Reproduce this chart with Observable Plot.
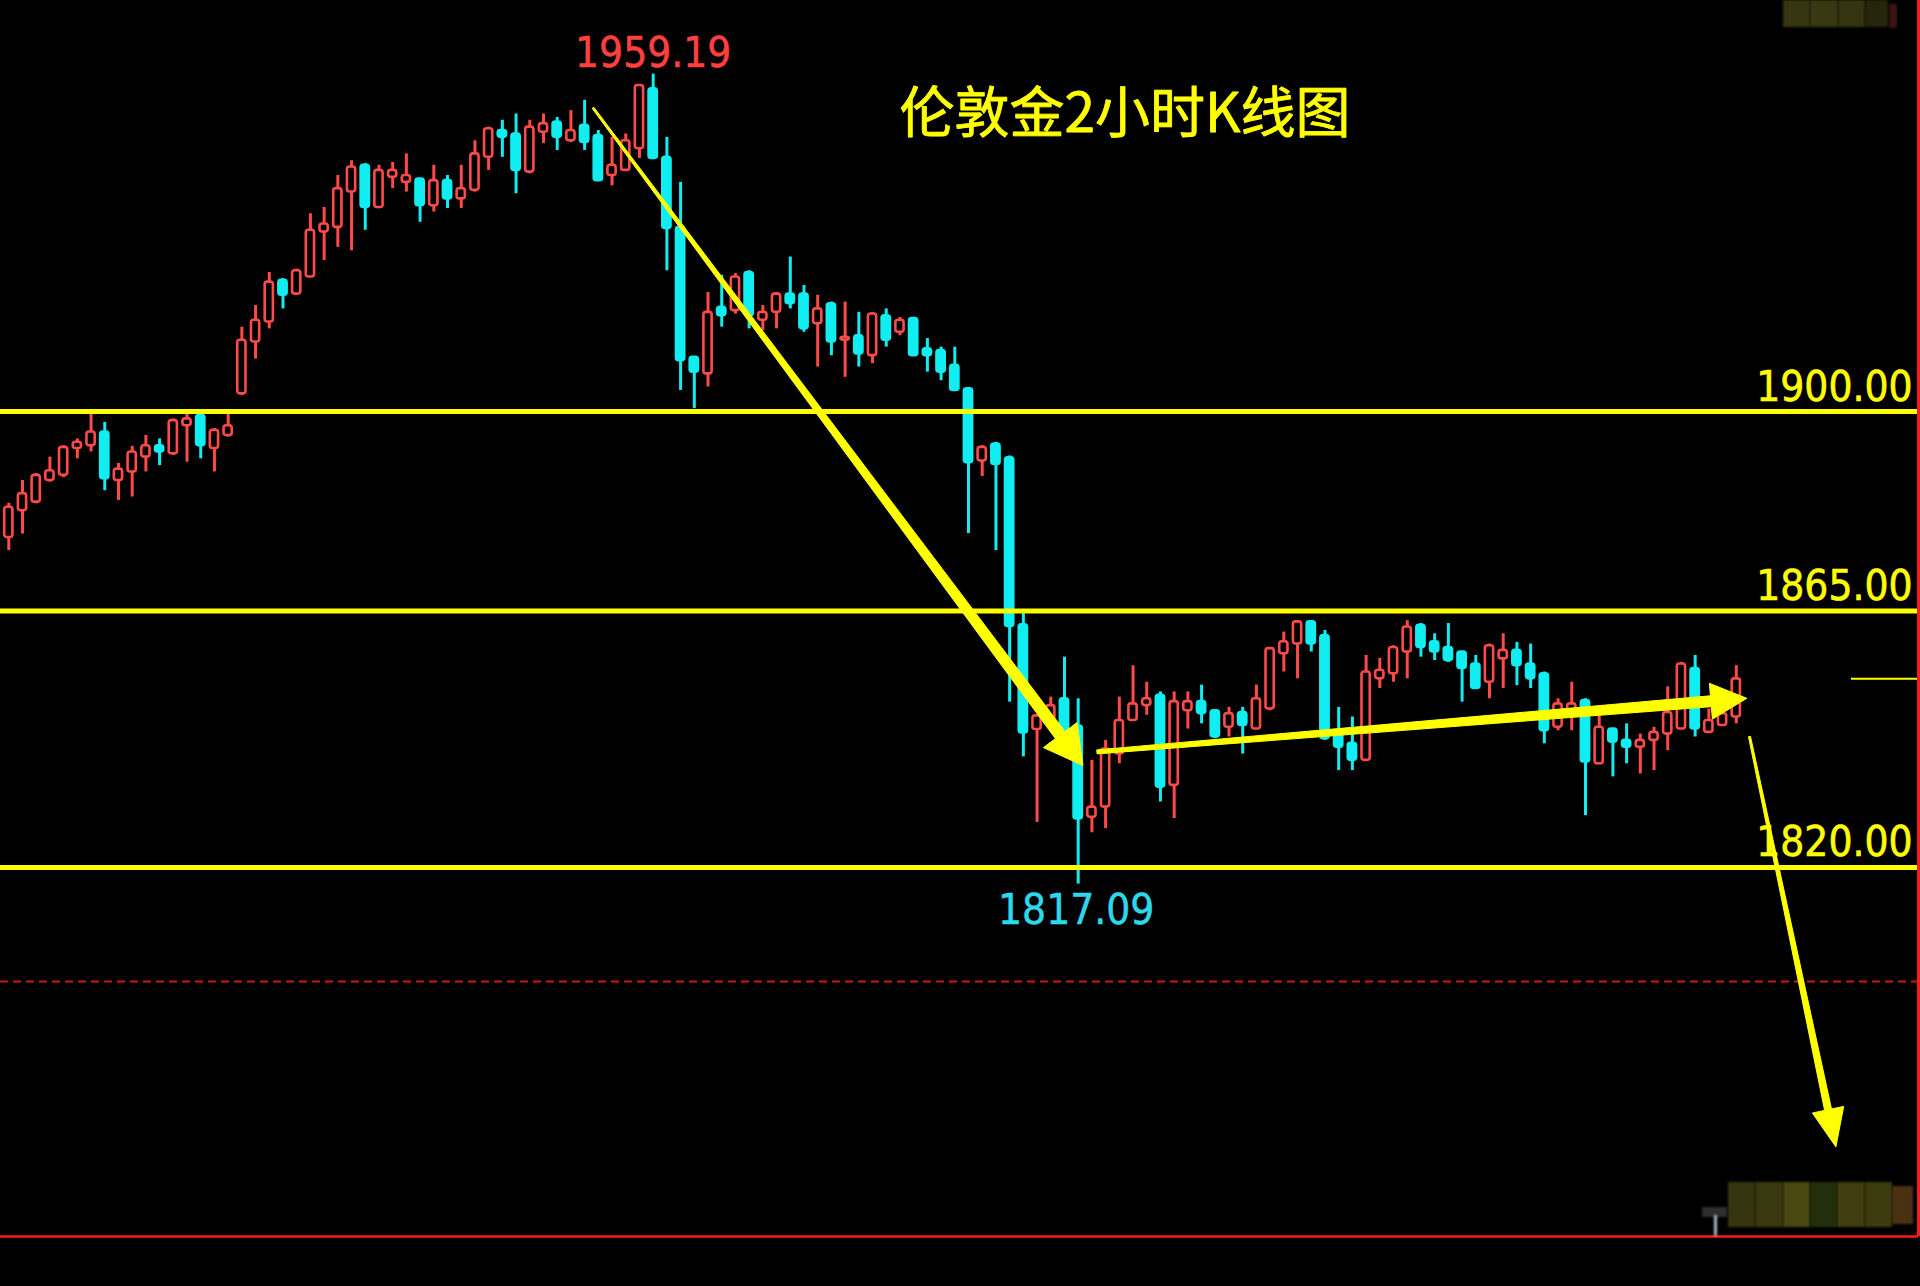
<!DOCTYPE html>
<html>
<head>
<meta charset="utf-8">
<script src="https://cdn.jsdelivr.net/npm/d3@7"></script>
<script src="https://cdn.jsdelivr.net/npm/@observablehq/plot@0.6"></script>
<style>
  html, body { margin: 0; padding: 0; background: #000; overflow: hidden; }
  #wrap { position: relative; width: 1920px; height: 1286px; }
  .patch { position: absolute; }
</style>
</head>
<body>
<div id="wrap"></div>
<script>
// London gold, 2-hour candles (open / high / low / close)
const open = [
  1877.9, 1882.6, 1884.1, 1887.9, 1888.8, 1893.5, 1894.0, 1896.4, 1887.9, 1889.4,
  1892.0, 1894.0, 1892.6, 1897.5, 1899.3, 1893.5, 1895.8, 1903.1, 1912.2, 1915.7,
  1923.0, 1920.6, 1923.6, 1931.5, 1932.3, 1938.5, 1943.2, 1935.8, 1941.1, 1940.2,
  1940.8, 1936.1, 1940.5, 1937.3, 1938.8, 1944.6, 1949.3, 1948.7, 1942.0, 1949.0,
  1950.8, 1947.5, 1950.2, 1948.4, 1941.4, 1942.3, 1946.1, 1956.6, 1944.6, 1932.3,
  1909.5, 1906.6, 1918.3, 1917.7, 1924.4, 1916.0, 1917.4, 1920.6, 1920.6, 1915.4,
  1918.9, 1912.5, 1913.3, 1909.8, 1916.8, 1913.9, 1916.3, 1911.0, 1910.7, 1908.1,
  1904.0, 1891.3, 1894.3, 1891.9, 1862.6, 1844.2, 1846.0, 1849.6, 1844.8, 1828.8,
  1830.6, 1839.9, 1845.8, 1848.4, 1850.2, 1834.4, 1847.5, 1849.1, 1847.5, 1844.6,
  1847.2, 1844.3, 1847.8, 1857.5, 1859.2, 1863.1, 1860.7, 1844.0, 1841.8, 1838.8,
  1853.1, 1854.0, 1857.8, 1862.5, 1859.6, 1858.6, 1857.8, 1855.7, 1852.5, 1856.6,
  1858.1, 1855.7, 1854.0, 1844.6, 1847.5, 1849.3, 1838.2, 1844.3, 1842.3, 1841.1,
  1842.3, 1843.4, 1844.3, 1854.9, 1843.7, 1844.9, 1846.4
];
const high = [
  1883.9, 1887.9, 1889.1, 1892.0, 1894.0, 1895.2, 1899.6, 1898.1, 1890.9, 1893.9,
  1895.8, 1895.2, 1898.7, 1899.9, 1900.0, 1897.0, 1899.6, 1914.8, 1918.6, 1924.4,
  1923.3, 1925.0, 1934.7, 1935.8, 1941.4, 1944.0, 1943.5, 1943.2, 1943.7, 1945.2,
  1940.8, 1943.2, 1941.4, 1943.2, 1947.5, 1949.9, 1951.1, 1952.2, 1951.1, 1952.2,
  1951.6, 1952.8, 1954.6, 1949.3, 1948.1, 1948.7, 1957.2, 1959.19, 1948.1, 1940.2,
  1909.5, 1920.9, 1923.9, 1924.2, 1924.7, 1918.6, 1920.9, 1927.1, 1922.1, 1920.4,
  1919.2, 1919.2, 1917.4, 1917.4, 1918.0, 1916.5, 1916.3, 1912.8, 1911.3, 1911.3,
  1904.0, 1894.0, 1894.6, 1892.2, 1864.7, 1846.6, 1849.9, 1856.9, 1849.6, 1838.8,
  1842.3, 1849.9, 1855.4, 1852.5, 1850.8, 1850.8, 1850.8, 1852.0, 1847.5, 1848.1,
  1848.1, 1852.0, 1858.4, 1861.3, 1863.3, 1863.3, 1861.6, 1848.1, 1846.4, 1857.2,
  1856.7, 1858.9, 1863.3, 1862.8, 1861.0, 1862.8, 1857.8, 1857.2, 1859.2, 1861.0,
  1859.5, 1859.2, 1854.3, 1849.6, 1852.5, 1849.6, 1846.7, 1844.3, 1845.2, 1843.4,
  1844.6, 1851.7, 1856.0, 1857.2, 1847.8, 1848.1, 1855.4
];
const low = [
  1875.6, 1878.5, 1883.8, 1887.6, 1888.4, 1891.7, 1892.9, 1886.1, 1884.4, 1885.0,
  1889.4, 1890.5, 1892.3, 1891.1, 1891.7, 1889.4, 1895.5, 1902.8, 1909.2, 1914.5,
  1918.0, 1920.5, 1923.6, 1926.5, 1928.8, 1928.2, 1931.8, 1935.6, 1939.1, 1938.5,
  1933.2, 1935.0, 1935.6, 1935.6, 1938.5, 1942.3, 1944.6, 1938.2, 1941.7, 1947.0,
  1945.8, 1947.2, 1945.8, 1940.5, 1939.6, 1942.3, 1944.4, 1944.4, 1924.7, 1903.7,
  1900.5, 1904.3, 1914.8, 1917.1, 1914.5, 1914.2, 1914.5, 1918.0, 1913.9, 1907.8,
  1909.8, 1906.0, 1907.8, 1908.4, 1911.3, 1913.3, 1909.8, 1906.9, 1905.4, 1903.7,
  1878.6, 1888.6, 1875.6, 1849.0, 1839.4, 1827.9, 1845.4, 1843.9, 1817.09, 1826.1,
  1826.8, 1838.2, 1845.8, 1846.7, 1831.5, 1828.6, 1844.3, 1845.2, 1842.6, 1842.9,
  1839.9, 1844.3, 1847.5, 1854.3, 1853.1, 1857.8, 1842.3, 1837.0, 1837.0, 1838.8,
  1851.4, 1852.5, 1853.1, 1856.9, 1856.3, 1856.0, 1849.0, 1851.4, 1849.6, 1851.4,
  1851.9, 1851.4, 1841.7, 1844.0, 1844.0, 1829.1, 1838.2, 1835.9, 1838.2, 1836.4,
  1837.0, 1840.5, 1844.3, 1842.9, 1843.7, 1844.9, 1845.2
];
const close = [
  1883.2, 1885.6, 1888.8, 1889.6, 1893.7, 1894.6, 1896.4, 1888.2, 1889.9, 1892.9,
  1894.0, 1892.9, 1898.4, 1898.7, 1894.0, 1896.7, 1897.5, 1912.5, 1916.0, 1922.7,
  1920.4, 1924.7, 1931.8, 1932.9, 1939.1, 1942.9, 1935.8, 1942.3, 1942.3, 1941.4,
  1936.1, 1940.5, 1937.3, 1939.1, 1945.2, 1949.6, 1948.1, 1942.3, 1949.9, 1950.5,
  1948.1, 1949.3, 1947.2, 1940.5, 1943.2, 1947.5, 1957.2, 1944.4, 1932.1, 1908.9,
  1906.9, 1917.4, 1916.8, 1923.6, 1916.8, 1917.4, 1920.6, 1918.9, 1914.5, 1918.0,
  1912.2, 1913.0, 1910.1, 1917.1, 1912.5, 1916.0, 1909.8, 1909.8, 1906.9, 1903.7,
  1891.0, 1893.7, 1890.7, 1862.3, 1843.6, 1846.6, 1848.4, 1843.9, 1828.5, 1830.6,
  1840.8, 1845.8, 1848.7, 1849.6, 1834.1, 1849.1, 1849.1, 1847.0, 1842.9, 1847.0,
  1844.9, 1849.6, 1858.4, 1859.6, 1863.1, 1859.2, 1842.6, 1841.1, 1838.8, 1854.3,
  1854.6, 1858.6, 1862.2, 1858.6, 1857.8, 1856.3, 1854.9, 1851.4, 1858.9, 1858.1,
  1855.4, 1853.1, 1844.0, 1848.7, 1848.7, 1838.5, 1844.6, 1842.0, 1841.1, 1842.3,
  1843.7, 1847.2, 1855.7, 1844.3, 1845.8, 1847.0, 1853.1
];

// horizontal support / resistance levels and the dashed reference level
const levels = [1900, 1865, 1820];
const dashedLevel = 1800;

// trend arrows drawn on the chart: [bar index, price] at tail and tip
const arrowTails = [[42.65, 1953.2], [79.4, 1840.2], [127.0, 1842.9]];
const arrowTips  = [[78.38, 1837.8], [126.8, 1849.6], [133.3, 1770.9]];

// bar index where the last-price marker starts
const lastPriceFrom = 134.4;

const title = "伦敦金2小时K线图";

const RED = "#ff4a4a", CYAN = "#10eef2", YELLOW = "#ffff00";
const NUM_FONT = '"DejaVu Sans Condensed", "DejaVu Sans", sans-serif';

const candles = open.map((o, i) => ({
  i, o, h: high[i], l: low[i], c: close[i], up: close[i] >= o
}));

const peakIdx = d3.maxIndex(high);
const troughIdx = d3.minIndex(low);
const lastClose = close[close.length - 1];

// visible window: bar index range and price range
const xDomain = [-0.605, 139.29];
const yDomain = [1755.26, 1972.11];
const halfBody = 0.3;

// tapered arrow shapes (shaft width at tail / at head, head length / width), in px
const arrowShape = [
  {w0: 2, w1: 12, len: 38, wid: 42},
  {w0: 4, w1: 11, len: 36, wid: 36},
  {w0: 2, w1: 7, len: 38, wid: 32}
];

function trendArrows(index, scales) {
  const ns = "http://www.w3.org/2000/svg";
  const g = document.createElementNS(ns, "g");
  arrowTails.forEach((tail, k) => {
    const tip = arrowTips[k], s = arrowShape[k];
    const x0 = scales.x(tail[0]), y0 = scales.y(tail[1]);
    const x1 = scales.x(tip[0]), y1 = scales.y(tip[1]);
    const dx = x1 - x0, dy = y1 - y0, L = Math.hypot(dx, dy);
    const ux = dx / L, uy = dy / L, nx = -uy, ny = ux;
    const bx = x1 - ux * s.len, by = y1 - uy * s.len;
    const pts = [
      [x0 + nx * s.w0 / 2, y0 + ny * s.w0 / 2],
      [bx + nx * s.w1 / 2, by + ny * s.w1 / 2],
      [bx + nx * s.wid / 2, by + ny * s.wid / 2],
      [x1, y1],
      [bx - nx * s.wid / 2, by - ny * s.wid / 2],
      [bx - nx * s.w1 / 2, by - ny * s.w1 / 2],
      [x0 - nx * s.w0 / 2, y0 - ny * s.w0 / 2]
    ];
    const p = document.createElementNS(ns, "polygon");
    p.setAttribute("points", pts.map(q => q.map(v => v.toFixed(1)).join(",")).join(" "));
    p.setAttribute("fill", YELLOW);
    p.setAttribute("stroke", YELLOW);
    p.setAttribute("stroke-width", "1");
    p.setAttribute("stroke-linejoin", "round");
    g.appendChild(p);
  });
  return g;
}

const chart = Plot.plot({
  width: 1920,
  height: 1286,
  marginTop: 0,
  marginLeft: 0,
  marginRight: 2,
  marginBottom: 50,
  style: {background: "#000", overflow: "visible"},
  x: {type: "linear", domain: xDomain, axis: null},
  y: {type: "linear", domain: yDomain, axis: null},
  marks: [
    // panel bottom edge and dashed reference level
    Plot.ruleY([yDomain[0]], {stroke: "#ff1a1a", strokeWidth: 2.5}),
    Plot.ruleY([dashedLevel], {stroke: "#c81a1a", strokeWidth: 2, strokeDasharray: "8,5"}),
    // wicks
    Plot.ruleX(candles, {
      x: "i", y1: "l", y2: "h",
      stroke: d => d.up ? RED : CYAN, strokeWidth: 3
    }),
    // bodies: hollow red for up bars, solid cyan for down bars
    Plot.rect(candles, {
      x1: d => d.i - halfBody, x2: d => d.i + halfBody,
      y1: d => Math.min(d.o, d.c), y2: d => Math.max(d.o, d.c),
      fill: d => d.up ? "#000" : CYAN,
      stroke: d => d.up ? RED : CYAN,
      strokeWidth: 2.6, rx: 2.5
    }),
    // horizontal levels
    Plot.ruleY(levels, {stroke: YELLOW, strokeWidth: 5}),
    // last price marker
    Plot.ruleY([lastClose], {x1: lastPriceFrom, x2: xDomain[1], stroke: YELLOW, strokeWidth: 2}),
    // level labels
    Plot.text(levels, {
      y: d => d, frameAnchor: "right", text: d => d.toFixed(2),
      textAnchor: "end", lineAnchor: "bottom", dx: -6, dy: -11,
      fill: YELLOW, fontSize: 42, fontFamily: NUM_FONT, stroke: YELLOW, strokeWidth: 0.6
    }),
    // high / low labels
    Plot.text([peakIdx], {
      x: d => d, y: d => high[d], text: d => high[d].toFixed(2),
      lineAnchor: "bottom", dy: -7, fill: "#ff4040", fontSize: 42, fontFamily: NUM_FONT,
      stroke: "#ff4040", strokeWidth: 0.5
    }),
    Plot.text([troughIdx], {
      x: d => d, y: d => low[d], text: d => low[d].toFixed(2),
      lineAnchor: "top", dy: 10, dx: -2, fill: "#2ed8ea", fontSize: 42, fontFamily: NUM_FONT,
      stroke: "#2ed8ea", strokeWidth: 0.5
    }),
    // chart title
    Plot.text([title], {
      frameAnchor: "top-left", text: d => d, textAnchor: "start", lineAnchor: "bottom",
      dx: 899, dy: 131, fill: YELLOW, fontSize: 55, stroke: YELLOW, strokeWidth: 0.8,
      fontFamily: '"Noto Sans CJK SC", "Noto Sans", sans-serif'
    }),
    // trend arrows
    trendArrows,
    // panel right edge
    Plot.ruleX([xDomain[1]], {stroke: "#ff1a1a", strokeWidth: 3})
  ]
});

const wrap = document.getElementById("wrap");
wrap.appendChild(chart);

// pixelated cover patches over the corner labels
const patches = [
  [1783, 0, 27, 27, "#363611"], [1810, 0, 28, 27, "#383812"], [1838, 0, 27, 27, "#343410"],
  [1865, 0, 23, 27, "#26260c"], [1889, 4, 8, 24, "#3a1410"],
  [1728, 1182, 27, 45, "#37350f"], [1755, 1182, 28, 45, "#3b3910"], [1783, 1182, 27, 45, "#4a4812"],
  [1810, 1182, 27, 45, "#232f0c"], [1837, 1182, 28, 45, "#403d10"], [1865, 1182, 27, 45, "#3d3b10"],
  [1892, 1186, 21, 38, "#4a3111"],
  [1702, 1207, 25, 10, "#2e2e2e"], [1714, 1215, 3, 21, "#a8b8c0"]
];
for (const [x, y, w, h, c] of patches) {
  const d = document.createElement("div");
  d.className = "patch";
  Object.assign(d.style, {left: x + "px", top: y + "px", width: w + "px", height: h + "px", background: c, filter: "blur(1px)"});
  wrap.appendChild(d);
}
</script>
</body>
</html>
